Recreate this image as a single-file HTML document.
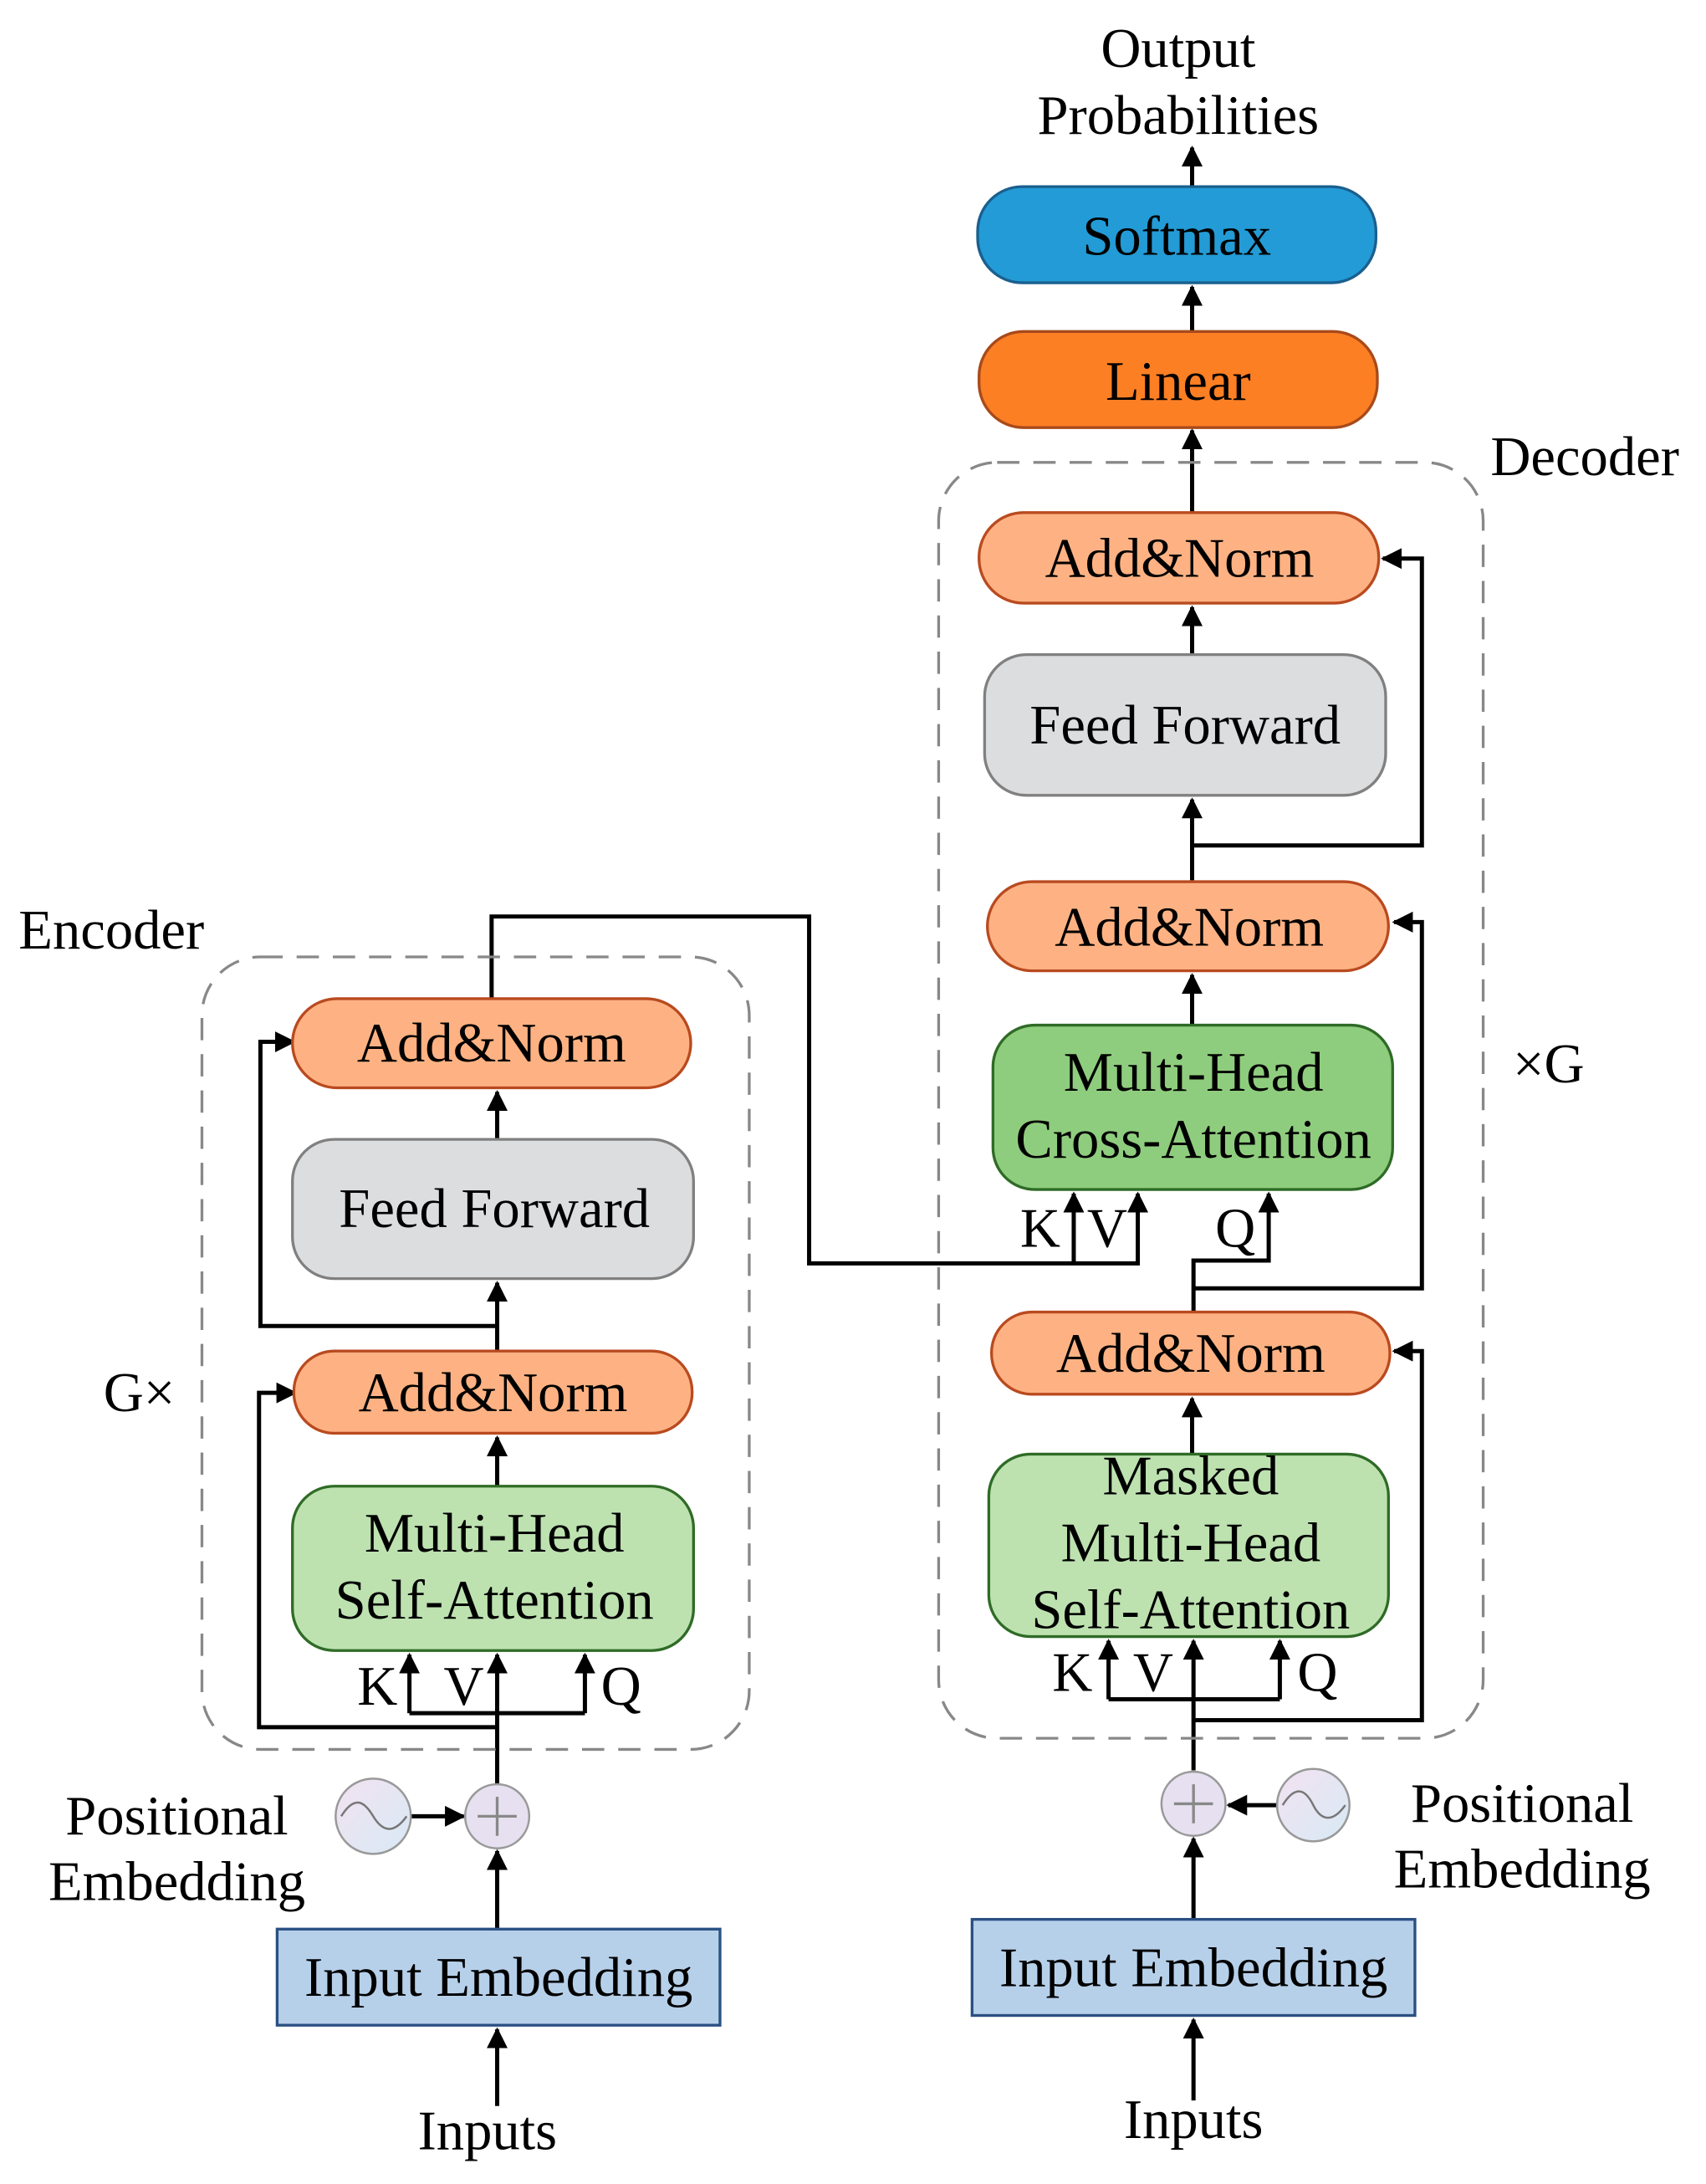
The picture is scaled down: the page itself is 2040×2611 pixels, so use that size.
<!DOCTYPE html>
<html><head><meta charset="utf-8"><style>
html,body{margin:0;padding:0;background:#fff;}
svg{display:block;}
text{font-family:"Liberation Serif",serif;font-size:40px;fill:#000;text-anchor:middle;}
</style></head><body>
<svg width="2040" height="2611" viewBox="0 0 1225 1568" preserveAspectRatio="none" xmlns="http://www.w3.org/2000/svg">
<defs>
<marker id="a" viewBox="0 0 10 10" refX="9" refY="5" markerWidth="5" markerHeight="5" orient="auto" markerUnits="strokeWidth">
<path d="M0,0 L10,5 L0,10 z" fill="#000"/></marker>
<linearGradient id="sg" x1="0" y1="0" x2="1" y2="1"><stop offset="0" stop-color="#f3e2f0"/><stop offset="1" stop-color="#d8eaf6"/></linearGradient>
</defs>
<g fill="none" stroke="#000" stroke-width="3">
<path d="M856,133 V106" marker-end="url(#a)"/>
<path d="M856,238 V206" marker-end="url(#a)"/>
<path d="M856,368 V309" marker-end="url(#a)"/>
<path d="M856,470 V436" marker-end="url(#a)"/>
<path d="M856,632 V574" marker-end="url(#a)"/>
<path d="M856,607 H1021 V401 H993" marker-end="url(#a)"/>
<path d="M856,736 V700" marker-end="url(#a)"/>
<path d="M857,925 H1021 V662 H1001" marker-end="url(#a)"/>
<path d="M857,942 V905 H911 V857" marker-end="url(#a)"/>
<path d="M353,717 V658 H581 V907 H817 V857" marker-end="url(#a)"/>
<path d="M771,907 V857" marker-end="url(#a)"/>
<path d="M856,1044 V1004" marker-end="url(#a)"/>
<path d="M857,1235 H1021 V970 H1001" marker-end="url(#a)"/>
<path d="M857,1271 V1178" marker-end="url(#a)"/>
<path d="M796,1220 H919"/>
<path d="M796,1220 V1178" marker-end="url(#a)"/>
<path d="M919,1220 V1178" marker-end="url(#a)"/>
<path d="M857,1377 V1320" marker-end="url(#a)"/>
<path d="M917,1296 H882" marker-end="url(#a)"/>
<path d="M857,1508 V1450" marker-end="url(#a)"/>
<path d="M357,818 V784" marker-end="url(#a)"/>
<path d="M357,970 V921" marker-end="url(#a)"/>
<path d="M357,952 H187 V748 H211" marker-end="url(#a)"/>
<path d="M357,1067 V1032" marker-end="url(#a)"/>
<path d="M357,1240 H186 V1000 H212" marker-end="url(#a)"/>
<path d="M357,1281 V1188" marker-end="url(#a)"/>
<path d="M294,1230 H420"/>
<path d="M294,1230 V1188" marker-end="url(#a)"/>
<path d="M420,1230 V1188" marker-end="url(#a)"/>
<path d="M357,1385 V1329" marker-end="url(#a)"/>
<path d="M295,1304 H333" marker-end="url(#a)"/>
<path d="M357,1512 V1457" marker-end="url(#a)"/>
</g>
<rect x="674" y="332" width="391" height="916" rx="42" fill="none" stroke="#888" stroke-width="2" stroke-dasharray="16,10"/>
<rect x="145" y="687" width="393" height="569" rx="42" fill="none" stroke="#888" stroke-width="2" stroke-dasharray="16,10"/>
<rect x="702" y="134" width="286" height="69" rx="32" fill="#239bd6" stroke="#1a5f8e" stroke-width="2"/>
<rect x="703" y="238" width="286" height="69" rx="32" fill="#fd7f24" stroke="#a84a1a" stroke-width="2"/>
<rect x="703" y="368" width="287" height="65" rx="32" fill="#feb283" stroke="#b94a1f" stroke-width="2"/>
<rect x="707" y="470" width="288" height="101" rx="30" fill="#dcdddf" stroke="#808080" stroke-width="2"/>
<rect x="709" y="633" width="288" height="64" rx="32" fill="#feb283" stroke="#b94a1f" stroke-width="2"/>
<rect x="713" y="736" width="287" height="118" rx="30" fill="#8fcd7e" stroke="#2f6b26" stroke-width="2"/>
<rect x="712" y="942" width="286" height="59" rx="29" fill="#feb283" stroke="#b94a1f" stroke-width="2"/>
<rect x="710" y="1044" width="287" height="131" rx="30" fill="#bde2b0" stroke="#2f6b26" stroke-width="2"/>
<rect x="698" y="1378" width="318" height="69" fill="#b7d0ea" stroke="#2a5082" stroke-width="2"/>
<circle cx="857" cy="1295" r="23" fill="#e6e0f0" stroke="#999" stroke-width="1.5"/>
<path d="M843,1295 H871 M857,1281 V1309" stroke="#888" stroke-width="2"/>
<circle cx="943" cy="1296" r="26" fill="url(#sg)" stroke="#999" stroke-width="1.5"/>
<path d="M921,1296 C931,1280 938,1286 943,1296 C948,1306 956,1310 966,1296" fill="none" stroke="#777" stroke-width="1.5"/>
<rect x="210" y="717" width="286" height="64" rx="32" fill="#feb283" stroke="#b94a1f" stroke-width="2"/>
<rect x="210" y="818" width="288" height="100" rx="30" fill="#dcdddf" stroke="#808080" stroke-width="2"/>
<rect x="211" y="970" width="286" height="59" rx="29" fill="#feb283" stroke="#b94a1f" stroke-width="2"/>
<rect x="210" y="1067" width="288" height="118" rx="30" fill="#bde2b0" stroke="#2f6b26" stroke-width="2"/>
<rect x="199" y="1385" width="318" height="69" fill="#b7d0ea" stroke="#2a5082" stroke-width="2"/>
<circle cx="357" cy="1304" r="23" fill="#e6e0f0" stroke="#999" stroke-width="1.5"/>
<path d="M343,1304 H371 M357,1290 V1318" stroke="#888" stroke-width="2"/>
<circle cx="268" cy="1304" r="27" fill="url(#sg)" stroke="#999" stroke-width="1.5"/>
<path d="M245,1304 C255,1288 262,1294 268,1304 C274,1314 282,1318 292,1304" fill="none" stroke="#777" stroke-width="1.5"/>
<text x="846" y="48">Output</text>
<text x="846" y="96">Probabilities</text>
<text x="845" y="183">Softmax</text>
<text x="846" y="287">Linear</text>
<text x="1138" y="341">Decoder</text>
<text x="847" y="414">Add&amp;Norm</text>
<text x="851" y="534">Feed Forward</text>
<text x="854" y="679">Add&amp;Norm</text>
<text x="857" y="783">Multi-Head</text>
<text x="857" y="831">Cross-Attention</text>
<text x="747" y="895">K</text>
<text x="795" y="895">V</text>
<text x="887" y="895">Q</text>
<text x="1112" y="777">×G</text>
<text x="855" y="985">Add&amp;Norm</text>
<text x="855" y="1073">Masked</text>
<text x="855" y="1121">Multi-Head</text>
<text x="855" y="1169">Self-Attention</text>
<text x="770" y="1214">K</text>
<text x="828" y="1214">V</text>
<text x="946" y="1214">Q</text>
<text x="1093" y="1308">Positional</text>
<text x="1093" y="1355">Embedding</text>
<text x="857" y="1426">Input Embedding</text>
<text x="857" y="1535">Inputs</text>
<text x="80" y="681">Encoder</text>
<text x="100" y="1013">G×</text>
<text x="353" y="762">Add&amp;Norm</text>
<text x="355" y="881">Feed Forward</text>
<text x="354" y="1013">Add&amp;Norm</text>
<text x="355" y="1114">Multi-Head</text>
<text x="355" y="1162">Self-Attention</text>
<text x="271" y="1224">K</text>
<text x="333" y="1224">V</text>
<text x="446" y="1224">Q</text>
<text x="127" y="1317">Positional</text>
<text x="127" y="1364">Embedding</text>
<text x="358" y="1433">Input Embedding</text>
<text x="350" y="1543">Inputs</text>
</svg>
</body></html>
